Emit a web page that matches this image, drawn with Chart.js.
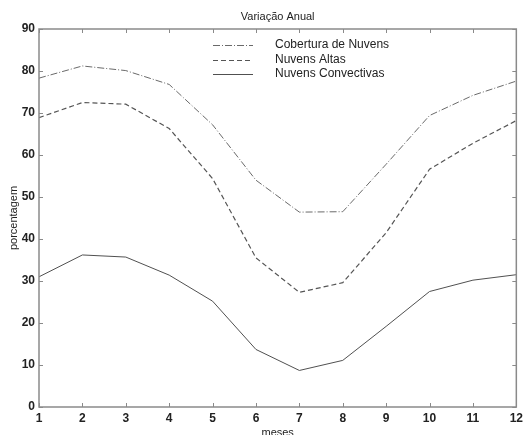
<!DOCTYPE html>
<html>
<head>
<meta charset="utf-8">
<script src="https://cdn.jsdelivr.net/npm/chart.js@4"></script>
<style>
  html, body { margin: 0; padding: 0; background: #fff; overflow: hidden; }
  #wrap { width: 527px; height: 435px; }
</style>
</head>
<body>
<div id="wrap"><canvas id="chart" width="527" height="435"></canvas></div>
<script>
const meses = [1, 2, 3, 4, 5, 6, 7, 8, 9, 10, 11, 12];
const cobertura = [78.3, 81.2, 80.1, 76.8, 67.2, 54.0, 46.4, 46.5, 57.8, 69.4, 74.2, 77.6];
const altas = [68.9, 72.5, 72.1, 66.3, 54.4, 35.5, 27.3, 29.6, 41.5, 56.6, 62.8, 68.2];
const convectivas = [31.0, 36.2, 35.7, 31.4, 25.2, 13.7, 8.7, 11.1, 19.2, 27.5, 30.2, 31.5];
const yTicks = [0, 10, 20, 30, 40, 50, 60, 70, 80, 90];

const axisColor = '#8a8a8a';
const font = 'Liberation Sans, Arial, sans-serif';

function pts(vals) {
  return meses.map((m, i) => ({ x: m, y: vals[i] }));
}

// box, inward ticks, title and legend like the original figure
const frame = {
  id: 'frame',
  afterDraw(chart) {
    const ctx = chart.ctx;
    const a = chart.chartArea;
    const xs = chart.scales.x, ys = chart.scales.y;
    ctx.save();
    ctx.setLineDash([]);
    ctx.globalAlpha = 1;
    ctx.strokeStyle = axisColor;
    ctx.lineWidth = 1.5;
    ctx.beginPath();
    ctx.rect(a.left, a.top, a.right - a.left, a.bottom - a.top);
    ctx.stroke();
    ctx.lineWidth = 1;
    ctx.beginPath();
    meses.forEach(m => {
      const px = Math.round(xs.getPixelForValue(m)) + 0.5;
      ctx.moveTo(px, a.bottom); ctx.lineTo(px, a.bottom - 4);
      ctx.moveTo(px, a.top); ctx.lineTo(px, a.top + 4);
    });
    yTicks.forEach(v => {
      const py = Math.round(ys.getPixelForValue(v)) + 0.5;
      ctx.moveTo(a.left, py); ctx.lineTo(a.left + 4, py);
      ctx.moveTo(a.right, py); ctx.lineTo(a.right - 4, py);
    });
    ctx.stroke();

    ctx.fillStyle = '#222';
    ctx.font = '11px ' + font;
    ctx.textAlign = 'center';
    ctx.textBaseline = 'middle';
    ctx.fillText('Variação Anual', (a.left + a.right) / 2, 17);

    // legend
    ctx.font = '12px ' + font;
    ctx.textAlign = 'left';
    chart.data.datasets.forEach((ds, i) => {
      const y = 45 + i * 14.5;
      ctx.strokeStyle = ds.borderColor;
      ctx.lineWidth = ds.borderWidth;
      ctx.setLineDash(ds.borderDash || []);
      ctx.beginPath();
      ctx.moveTo(213, Math.round(y) + 0.5); ctx.lineTo(253, Math.round(y) + 0.5);
      ctx.stroke();
      ctx.setLineDash([]);
      ctx.fillStyle = '#222';
      ctx.fillText(ds.label, 275, y);
    });
    ctx.restore();
  }
};

new Chart(document.getElementById('chart'), {
  type: 'line',
  data: {
    datasets: [
      { label: 'Cobertura de Nuvens', data: pts(cobertura), borderColor: '#6a6a6a', borderWidth: 1, borderDash: [7, 2, 1, 2] },
      { label: 'Nuvens Altas', data: pts(altas), borderColor: '#555', borderWidth: 1.2, borderDash: [5, 3] },
      { label: 'Nuvens Convectivas', data: pts(convectivas), borderColor: '#505050', borderWidth: 1 }
    ]
  },
  options: {
    responsive: false,
    animation: false,
    layout: { padding: { top: 29, right: 10, left: 0, bottom: 0 } },
    elements: { point: { radius: 0 }, line: { tension: 0 } },
    plugins: { legend: { display: false }, tooltip: { enabled: false }, title: { display: false } },
    scales: {
      x: {
        type: 'linear', min: 1, max: 12,
        grid: { display: false, drawTicks: false },
        border: { display: false },
        ticks: { stepSize: 1, padding: 4, color: '#222', font: { family: font, size: 12, weight: 'bold' }, maxRotation: 0 },
        title: { display: true, text: 'meses', color: '#222', padding: { top: 0, bottom: -5 }, font: { family: font, size: 11 } },
        afterFit(s) { s.height = 28; }
      },
      y: {
        min: 0, max: 90,
        grid: { display: false, drawTicks: false },
        border: { display: false },
        afterBuildTicks(s) { s.ticks = yTicks.map(v => ({ value: v })); },
        ticks: { padding: 4, color: '#222', font: { family: font, size: 12, weight: 'bold' } },
        title: { display: true, text: 'porcentagem', color: '#222', padding: { top: 7, bottom: 0 }, font: { family: font, size: 11 } },
        afterFit(s) { s.width = 39; }
      }
    }
  },
  plugins: [frame]
});
</script>
</body>
</html>
